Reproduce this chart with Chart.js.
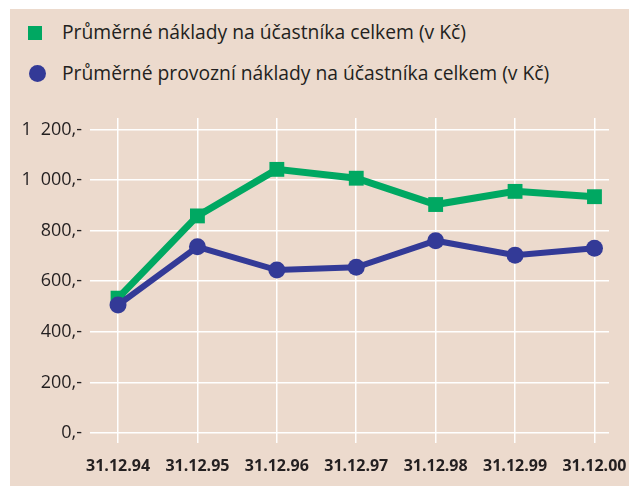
<!DOCTYPE html>
<html>
<head>
<meta charset="utf-8">
<script src="https://cdn.jsdelivr.net/npm/chart.js@4/dist/chart.umd.min.js"></script>
<style>
  body { margin: 0; background: #fff; width: 629px; height: 486px; overflow: hidden; position: relative; font-family: "Open Sans", sans-serif; color: #231f20; }
  #box { position: absolute; left: 10px; top: 9px; width: 619px; height: 477px; background: #ecdacd; }
  #chart { position: absolute; left: 0; top: 0; }
  .row { position: absolute; left: 52px; font-size: 19.3px; line-height: 22px; white-space: nowrap; }
  .mark { position: absolute; }
</style>
</head>
<body>
<div id="box">
  <div class="mark" style="left:18px; top:17px; width:14px; height:14px; background:#00a862;"></div>
  <div class="row" id="lg1" style="top:12px;"></div>
  <div class="mark" style="left:19px; top:56px; width:17px; height:17px; border-radius:50%; background:#333a97;"></div>
  <div class="row" id="lg2" style="top:53px;"></div>
  <canvas id="chart" width="619" height="477"></canvas>
</div>
<script>
// ----------------------------------------------------------
// DATA
// ----------------------------------------------------------
const labels = ["31.12.94", "31.12.95", "31.12.96", "31.12.97", "31.12.98", "31.12.99", "31.12.00"];
const totalCost = [533, 858, 1042, 1007, 903, 955, 934];
const operatingCost = [506, 736, 644, 655, 760, 703, 730];
const yTicks = [0, 200, 400, 600, 800, 1000, 1200];
const seriesNames = [
    "Průměrné náklady na účastníka celkem (v Kč)",
    "Průměrné provozní náklady na účastníka celkem (v Kč)"
];

const GREEN = "#00a862";
const BLUE = "#333a97";
const TEXT = "#231f20";

document.getElementById("lg1").textContent = seriesNames[0];
document.getElementById("lg2").textContent = seriesNames[1];

function fmt(v) {
    return String(v).replace(/\B(?=(\d{3})+(?!\d))/g, "\u2002") + ",-";
}

function points(values) {
    return values.map((v, i) => ({ x: i, y: v }));
}

// ----------------------------------------------------------
// CHART
// ----------------------------------------------------------
const ctx = document.getElementById("chart").getContext("2d");
new Chart(ctx, {
    type: "line",
    data: {
        datasets: [
            {
                label: seriesNames[0],
                data: points(totalCost),
                borderColor: GREEN,
                backgroundColor: GREEN,
                borderWidth: 7,
                pointStyle: "rect",
                pointRadius: 10.5,
                pointBorderWidth: 0,
                pointBackgroundColor: GREEN,
                tension: 0,
                order: 1
            },
            {
                label: seriesNames[1],
                data: points(operatingCost),
                borderColor: BLUE,
                backgroundColor: BLUE,
                borderWidth: 6,
                pointStyle: "circle",
                pointRadius: 8.5,
                pointBorderWidth: 0,
                pointBackgroundColor: BLUE,
                tension: 0,
                order: 0
            }
        ]
    },
    options: {
        responsive: false,
        animation: false,
        devicePixelRatio: 1,
        layout: { padding: { top: 109, right: 20, left: 0, bottom: 0 } },
        plugins: { legend: { display: false }, tooltip: { enabled: false } },
        scales: {
            x: {
                type: "linear",
                min: -0.353,
                max: 6.183,
                afterBuildTicks: s => { s.ticks = labels.map((_, i) => ({ value: i })); },
                afterFit: s => { s.height = 43; s.paddingLeft = 0; s.paddingRight = 0; },
                border: { display: false },
                grid: { color: "#ffffff", lineWidth: 1.5, drawTicks: false },
                ticks: {
                    autoSkip: false,
                    maxRotation: 0,
                    padding: 14,
                    color: TEXT,
                    font: { family: "Open Sans", size: 16, weight: "bold" },
                    callback: v => labels[v]
                }
            },
            y: {
                type: "linear",
                min: -39.5,
                max: 1245,
                afterBuildTicks: s => { s.ticks = yTicks.map(v => ({ value: v })); },
                afterFit: s => { s.width = 80; s.paddingTop = 0; s.paddingBottom = 0; },
                border: { display: false },
                grid: { color: "#ffffff", lineWidth: 1.5, drawTicks: false },
                ticks: {
                    padding: 8,
                    color: TEXT,
                    font: { family: "Open Sans", size: 18 },
                    callback: v => fmt(v)
                }
            }
        }
    }
});
</script>
</body>
</html>
